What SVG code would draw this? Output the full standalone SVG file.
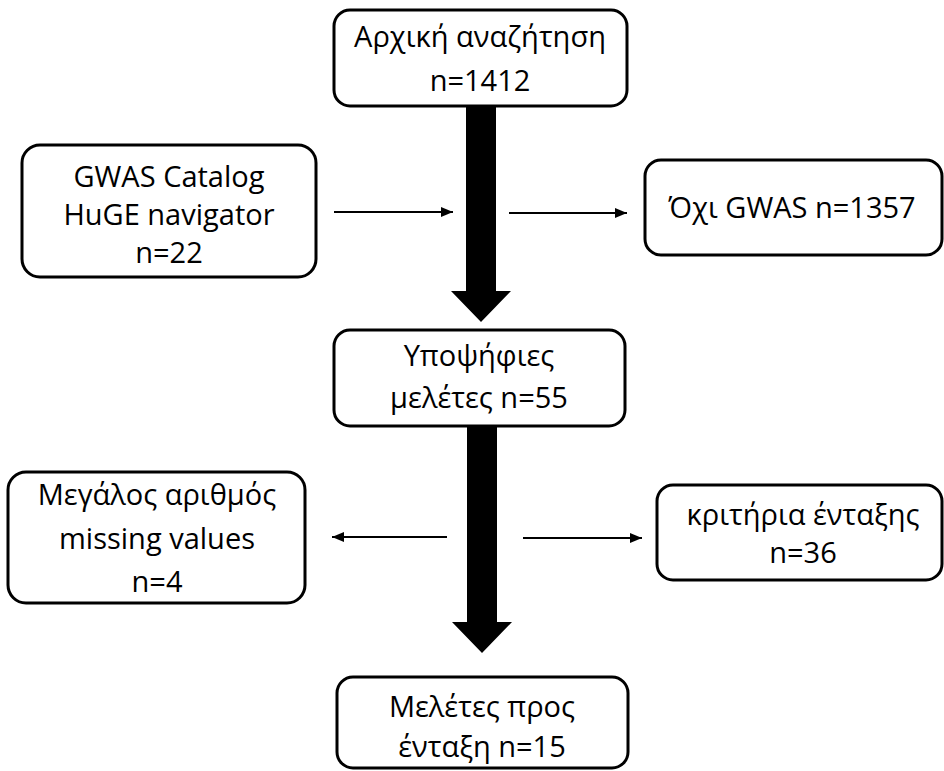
<svg xmlns="http://www.w3.org/2000/svg" width="944" height="771" viewBox="0 0 944 771">
<defs>
<style>
.box{fill:#fff;stroke:#000;stroke-width:3}
.t{font-family:"Open Sans","Liberation Sans",sans-serif;font-size:29px;fill:#000;text-anchor:middle}
.ln{stroke:#000;stroke-width:2;fill:none}
.big{fill:#000}
</style>
<marker id="ah" markerWidth="12" markerHeight="10" refX="12" refY="5" orient="auto" markerUnits="userSpaceOnUse">
<path d="M0,0 L12,5 L0,10 Z" fill="#000"/>
</marker>
</defs>
<rect width="944" height="771" fill="#fff"/>
<g id="connectors">
<path class="big" d="M466,105 L496,105 L496,291 L511,291 L481,322 L451,291 L466,291 Z"/>
<path class="big" d="M467,426 L497,426 L497,622 L512,622 L482,653 L452,622 L467,622 Z"/>
<line class="ln" x1="334" y1="212" x2="453" y2="212" marker-end="url(#ah)"/>
<line class="ln" x1="509" y1="213" x2="627" y2="213" marker-end="url(#ah)"/>
<line class="ln" x1="447" y1="537" x2="332" y2="537" marker-end="url(#ah)"/>
<line class="ln" x1="523" y1="538" x2="642" y2="538" marker-end="url(#ah)"/>
</g>
<g id="n1">
<rect class="box" x="334" y="10" width="293" height="96" rx="16"/>
<text class="t" x="480" y="47">Αρχική αναζήτηση</text>
<text class="t" x="480" y="91">n=1412</text>
</g>
<g id="n2">
<rect class="box" x="22" y="145" width="294" height="132" rx="18"/>
<text class="t" x="169" y="187">GWAS Catalog</text>
<text class="t" x="169" y="225">HuGE navigator</text>
<text class="t" x="169" y="263">n=22</text>
</g>
<g id="n3">
<rect class="box" x="645" y="160" width="297" height="95" rx="16"/>
<text class="t" x="792" y="218">Όχι GWAS n=1357</text>
</g>
<g id="n4">
<rect class="box" x="334" y="330" width="291" height="96" rx="16"/>
<text class="t" x="479" y="366">Υποψήφιες</text>
<text class="t" x="479" y="408">μελέτες n=55</text>
</g>
<g id="n5">
<rect class="box" x="8" y="472" width="297" height="131" rx="18"/>
<text class="t" x="157" y="505">Μεγάλος αριθμός</text>
<text class="t" x="157" y="549">missing values</text>
<text class="t" x="157" y="592">n=4</text>
</g>
<g id="n6">
<rect class="box" x="657" y="485" width="285" height="95" rx="16"/>
<text class="t" x="803" y="525">κριτήρια ένταξης</text>
<text class="t" x="803" y="563">n=36</text>
</g>
<g id="n7">
<rect class="box" x="337" y="677" width="291" height="91" rx="16"/>
<text class="t" x="482" y="717">Μελέτες προς</text>
<text class="t" x="482" y="757">ένταξη n=15</text>
</g>
</svg>
